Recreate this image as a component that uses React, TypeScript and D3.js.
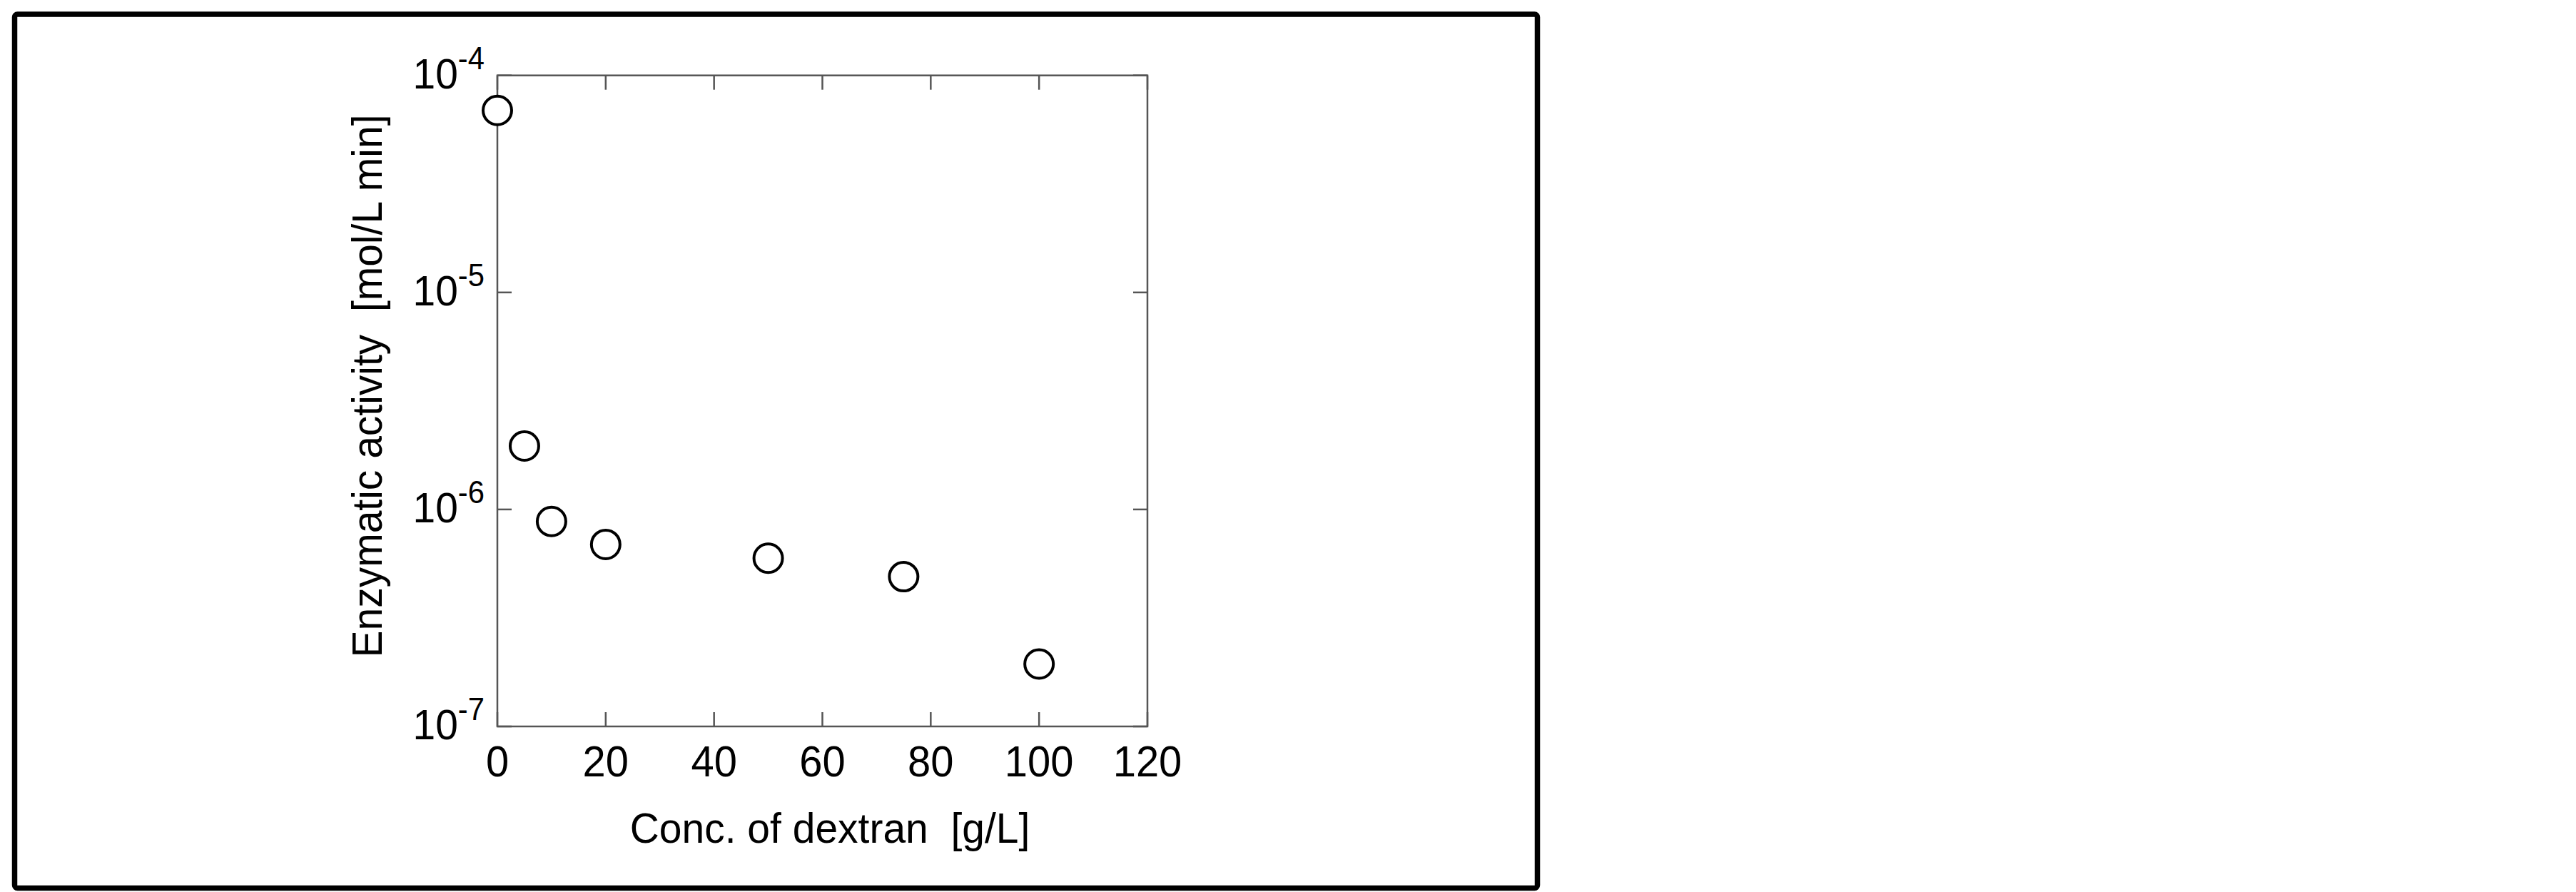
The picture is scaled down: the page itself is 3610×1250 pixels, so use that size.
import React from "react";
import * as d3 from "d3";

const dextran = [0, 5, 10, 20, 50, 75, 100];
const activity = [6.9e-5, 1.96e-6, 8.8e-7, 6.9e-7, 5.96e-7, 4.9e-7, 1.94e-7];
const xTicks = [0, 20, 40, 60, 80, 100, 120];
const yTickExps = [-4, -5, -6, -7];
const xLabel = "Conc. of dextran  [g/L]";
const yLabel = "Enzymatic activity  [mol/L min]";

const W = 3610;
const H = 1250;
const FONT = "'Liberation Sans', Arial, sans-serif";
const SX = 0.95;

export default function App() {
  const left = 697, right = 1608, top = 105.7, bottom = 1018;
  const x = d3.scaleLinear().domain([0, 120]).range([left, right]);
  const y = d3.scaleLog().domain([1e-7, 1e-4]).range([bottom, top]);
  const tickLen = 20;
  const axisColor = "#555";
  const axisW = 2.5;

  return (
    <svg
      width={W}
      height={H}
      style={{ position: "absolute", left: 0, top: 0, background: "#fff" }}
      fontFamily={FONT}
    >
      <rect x={0} y={0} width={W} height={H} fill="#fff" />
      <rect
        x={20.5}
        y={20}
        width={2134}
        height={1224.5}
        fill="none"
        stroke="#000"
        strokeWidth={7.5}
        rx={4}
      />
      <rect
        x={left}
        y={top}
        width={right - left}
        height={bottom - top}
        fill="none"
        stroke={axisColor}
        strokeWidth={axisW}
      />
      {xTicks.map((t) => (
        <g key={"xt" + t}>
          <line x1={x(t)} x2={x(t)} y1={bottom} y2={bottom - tickLen} stroke={axisColor} strokeWidth={axisW} />
          <line x1={x(t)} x2={x(t)} y1={top} y2={top + tickLen} stroke={axisColor} strokeWidth={axisW} />
          <text
            transform={`translate(${x(t)}, 1088) scale(${SX}, 1)`}
            textAnchor="middle"
            fontSize={61}
            fill="#000"
          >
            {t}
          </text>
        </g>
      ))}
      {yTickExps.map((e) => {
        const v = Math.pow(10, e);
        const yy = y(v);
        return (
          <g key={"yt" + e}>
            <line x1={left} x2={left + tickLen} y1={yy} y2={yy} stroke={axisColor} strokeWidth={axisW} />
            <line x1={right} x2={right - tickLen} y1={yy} y2={yy} stroke={axisColor} strokeWidth={axisW} />
            <text
              transform={`translate(${left - 18}, ${yy + 18}) scale(${SX}, 1)`}
              textAnchor="end"
              fontSize={60}
              fill="#000"
            >
              10
              <tspan fontSize={44} dy={-27}>
                {"-" + Math.abs(e)}
              </tspan>
            </text>
          </g>
        );
      })}
      {dextran.map((d, i) => (
        <circle
          key={"p" + i}
          cx={x(d)}
          cy={y(activity[i])}
          r={20}
          fill="#fff"
          stroke="#000"
          strokeWidth={4}
        />
      ))}
      <text
        transform={`translate(1163, 1181) scale(${SX}, 1)`}
        textAnchor="middle"
        fontSize={60}
        fill="#000"
        style={{ whiteSpace: "pre" }}
      >
        {xLabel}
      </text>
      <text
        transform={`translate(535, 541) rotate(-90) scale(${SX}, 1)`}
        textAnchor="middle"
        fontSize={60}
        fill="#000"
        style={{ whiteSpace: "pre" }}
      >
        {yLabel}
      </text>
    </svg>
  );
}
